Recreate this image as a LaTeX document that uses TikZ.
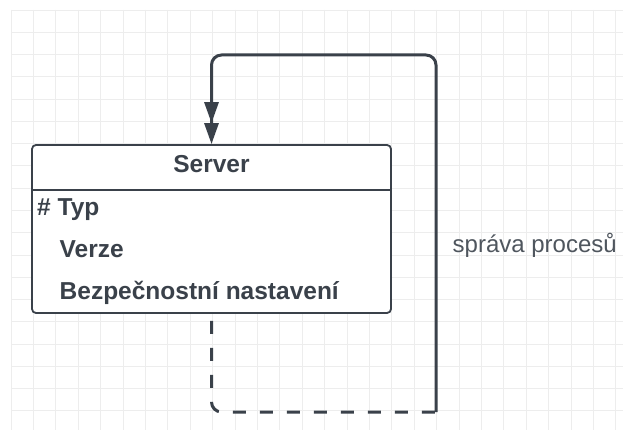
\documentclass[tikz,border=0pt]{standalone}
\usepackage{fontspec}
\setmainfont{Liberation Sans}
\usetikzlibrary{arrows.meta}

\definecolor{ink}{HTML}{3A414A}
\definecolor{labelgrey}{HTML}{4F565E}
\definecolor{gridgrey}{HTML}{EDEDED}

\tikzset{
  gridline/.style={draw=gridgrey, line width=0.9pt},
  classbox/.style={draw=ink, line width=1.8pt, fill=white, rounded corners=4pt,
    minimum width=359pt, minimum height=168pt, inner sep=0pt},
  divider/.style={draw=ink, line width=1.8pt},
  titletext/.style={font=\bfseries\fontsize{24.5}{28}\selectfont, text=ink, inner sep=0pt},
  fieldtext/.style={font=\bfseries\fontsize{24.5}{28}\selectfont, text=ink, inner sep=0pt, anchor=base west},
  edgelabel/.style={font=\fontsize{24}{28}\selectfont, text=labelgrey, inner sep=0pt, anchor=base west},
  conn/.style={draw=ink, line width=3pt},
  dashconn/.style={conn, dash pattern=on 13pt off 14pt, dash phase=20pt, rounded corners=10pt},
  solidconn/.style={conn, rounded corners=10pt,
    -{Triangle[length=21pt,width=14pt] Triangle[length=21pt,width=14pt]}},
}

\begin{document}
\begin{tikzpicture}[x=1pt, y=-1pt]
  \useasboundingbox (0,0) rectangle (623,430);
  \fill[white] (0,0) rectangle (623,430);

  % background grid
  \foreach \i in {0,...,27}
    \draw[gridline] ({11+22.4*\i},10) -- ({11+22.4*\i},430);
  \foreach \j in {0,...,18}
    \draw[gridline] (11,{10+22.27*\j}) -- (623,{10+22.27*\j});

  % class box
  \node[classbox] (server) at (211.5,229) {};
  \draw[divider] (server.west |- 0,190) -- (server.east |- 0,190);
  \node[titletext, anchor=base] (title) at (211.5,172.7) {Server};
  \node[fieldtext] (typ) at (37,216) {\# Typ};
  \node[fieldtext] (verze) at (59.5,257.7) {Verze};
  \node[fieldtext] (bezp) at (59.5,299.3) {Bezpečnostní nastavení};

  % self-loop route
  \coordinate (cBL) at (server.south |- 0,412);
  \coordinate (cBR) at (436,412);
  \coordinate (cTR) at (436,55);
  \coordinate (cTL) at (server.north |- 0,55);

  \draw[dashconn] (server.south) -- (cBL) -- (cBR);
  \draw[solidconn] (cBR) -- (cTR) -- (cTL) -- (server.north);

  \node[edgelabel] (lbl) at (452.5,252) {správa procesů};
\end{tikzpicture}
\end{document}
